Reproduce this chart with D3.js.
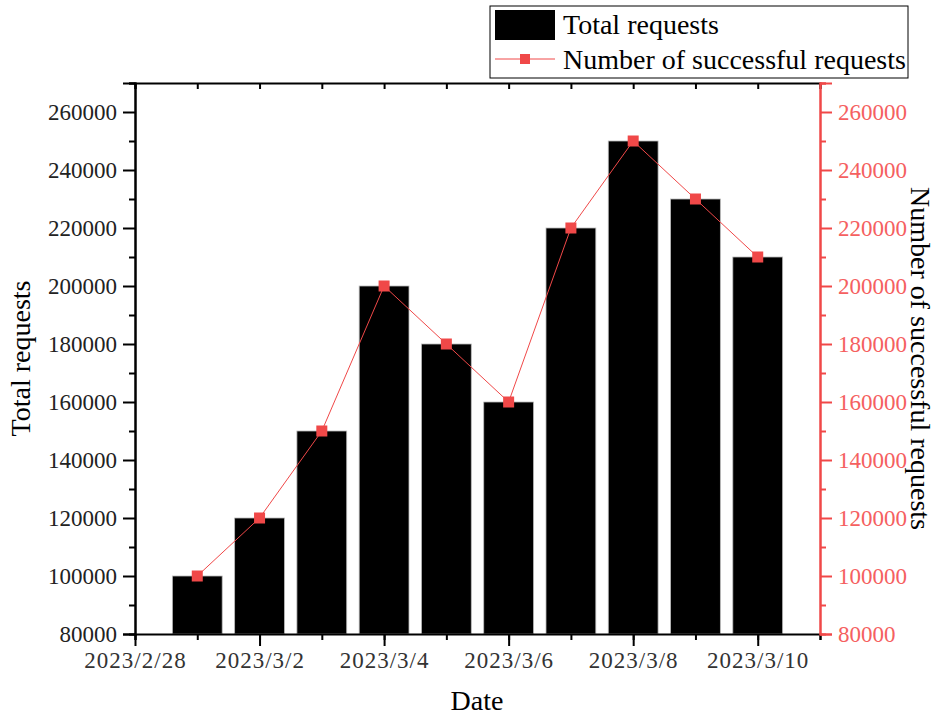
<!DOCTYPE html>
<html>
<head>
<meta charset="utf-8">
<script src="https://cdn.jsdelivr.net/npm/d3@7"></script>
<style>
    body { margin: 0; background: #fff; }
    text { font-family: "Liberation Serif", "Times New Roman", serif; }
</style>
</head>
<body>
<div id="chart"></div>
<script>
// data
const dates = ['2023/3/1', '2023/3/2', '2023/3/3', '2023/3/4', '2023/3/5', '2023/3/6', '2023/3/7', '2023/3/8', '2023/3/9', '2023/3/10'];
const totalRequests = [100000, 120000, 150000, 200000, 180000, 160000, 220000, 250000, 230000, 210000];
const successfulRequests = [100000, 120000, 150000, 200000, 180000, 160000, 220000, 250000, 230000, 210000];
const yTicks = [80000, 100000, 120000, 140000, 160000, 180000, 200000, 220000, 240000, 260000];
const xTickLabels = ['2023/2/28', '2023/3/2', '2023/3/4', '2023/3/6', '2023/3/8', '2023/3/10'];

const parseDate = d3.timeParse('%Y/%m/%d');
const data = dates.map((d, i) => ({
    date: parseDate(d),
    total: totalRequests[i],
    success: successfulRequests[i]
}));

const width = 938;
const height = 716;
const margin = {top: 83, right: 118, bottom: 82, left: 135};
const red = '#f04848';

const svg = d3.select('#chart')
    .append('svg')
        .attr('width', width)
        .attr('height', height);

const x = d3.scaleTime()
    .domain([parseDate('2023/2/28'), parseDate('2023/3/11')])
    .range([margin.left, width - margin.right]);
const y = d3.scaleLinear()
    .domain([80000, 270000])
    .range([height - margin.bottom, margin.top]);

const dayWidth = x(parseDate('2023/3/2')) - x(parseDate('2023/3/1'));
const barWidth = dayWidth * 0.8;

// bars
svg.append('g')
    .selectAll('rect')
    .data(data)
    .join('rect')
        .attr('x', d => x(d.date) - barWidth / 2)
        .attr('y', d => y(d.total))
        .attr('width', barWidth)
        .attr('height', d => y(80000) - y(d.total))
        .attr('fill', '#000')
        .attr('stroke', '#bbb')
        .attr('stroke-width', 0.8);

// line + markers
const line = d3.line()
    .x(d => x(d.date))
    .y(d => y(d.success));
svg.append('path')
    .datum(data)
    .attr('d', line)
    .attr('fill', 'none')
    .attr('stroke', red)
    .attr('stroke-width', 1);
svg.append('g')
    .selectAll('rect')
    .data(data)
    .join('rect')
        .attr('x', d => x(d.date) - 5.5)
        .attr('y', d => y(d.success) - 5.5)
        .attr('width', 11)
        .attr('height', 11)
        .attr('fill', red);

const labelTicks = xTickLabels.map(parseDate);
const allDays = d3.timeDay.range(parseDate('2023/2/28'), parseDate('2023/3/12'));
const minorY = d3.range(90000, 270001, 20000);

const styleAxis = (g, color) => {
    g.select('.domain').attr('stroke', color).attr('stroke-width', 2);
    g.selectAll('.tick line').attr('stroke', color).attr('stroke-width', 2);
    g.selectAll('.tick text')
        .attr('fill', color)
        .style('font-family', '"Liberation Serif", serif')
        .style('font-size', '23px');
};

// bottom axis: minor ticks every day, labels every 2 days
svg.append('g')
    .attr('transform', `translate(0, ${height - margin.bottom})`)
    .call(d3.axisBottom(x).tickValues(allDays).tickSize(6).tickFormat(''))
    .call(g => styleAxis(g, '#000'));
svg.append('g')
    .attr('transform', `translate(0, ${height - margin.bottom})`)
    .call(d3.axisBottom(x).tickValues(labelTicks).tickSize(12).tickPadding(6).tickFormat(d3.timeFormat('%Y/%-m/%-d')))
    .call(g => styleAxis(g, '#000'))
    .call(g => g.select('.domain').remove())
    .call(g => g.selectAll('.tick text').attr('fill', '#333').style('letter-spacing', '1px'));

// top axis mirror, inward ticks
svg.append('g')
    .attr('transform', `translate(0, ${margin.top})`)
    .call(d3.axisBottom(x).tickValues(allDays).tickSize(6).tickFormat(''))
    .call(g => styleAxis(g, '#000'));

// left axis
svg.append('g')
    .attr('transform', `translate(${margin.left}, 0)`)
    .call(d3.axisLeft(y).tickValues(minorY).tickSize(6).tickFormat(''))
    .call(g => styleAxis(g, '#000'));
svg.append('g')
    .attr('transform', `translate(${margin.left}, 0)`)
    .call(d3.axisLeft(y).tickValues(yTicks).tickSize(12).tickPadding(6).tickFormat(d3.format('d')))
    .call(g => styleAxis(g, '#000'))
    .call(g => g.selectAll('.tick text').attr('fill', '#222'));

// right axis (red)
svg.append('g')
    .attr('transform', `translate(${width - margin.right}, 0)`)
    .call(d3.axisRight(y).tickValues(minorY).tickSize(6).tickFormat(''))
    .call(g => styleAxis(g, red));
svg.append('g')
    .attr('transform', `translate(${width - margin.right}, 0)`)
    .call(d3.axisRight(y).tickValues(yTicks).tickSize(12).tickPadding(6).tickFormat(d3.format('d')))
    .call(g => styleAxis(g, red))
    .call(g => g.selectAll('.tick text').attr('fill', '#f56060'));

// axis titles
svg.append('text')
    .attr('x', 477)
    .attr('y', 710)
    .attr('text-anchor', 'middle')
    .style('font-size', '28px')
    .text('Date');
svg.append('text')
    .attr('transform', `translate(30, ${(margin.top + height - margin.bottom) / 2}) rotate(-90)`)
    .attr('text-anchor', 'middle')
    .style('font-size', '28px')
    .text('Total requests');
svg.append('text')
    .attr('transform', `translate(911, ${(margin.top + height - margin.bottom) / 2}) rotate(90)`)
    .attr('text-anchor', 'middle')
    .style('font-size', '28px')
    .text('Number of successful requests');

// legend
const legend = svg.append('g').attr('transform', 'translate(490, 6)');
legend.append('rect')
    .attr('width', 418)
    .attr('height', 72)
    .attr('fill', '#fff')
    .attr('stroke', '#000')
    .attr('stroke-width', 1);
legend.append('rect')
    .attr('x', 5)
    .attr('y', 4)
    .attr('width', 60)
    .attr('height', 30)
    .attr('fill', '#000');
legend.append('text')
    .attr('x', 73)
    .attr('y', 28)
    .style('font-size', '28px')
    .text('Total requests');
legend.append('line')
    .attr('x1', 5)
    .attr('x2', 65)
    .attr('y1', 53)
    .attr('y2', 53)
    .attr('stroke', red)
    .attr('stroke-width', 1);
legend.append('rect')
    .attr('x', 30)
    .attr('y', 48)
    .attr('width', 10)
    .attr('height', 10)
    .attr('fill', red);
legend.append('text')
    .attr('x', 73)
    .attr('y', 63)
    .style('font-size', '28px')
    .text('Number of successful requests');
</script>
</body>
</html>
